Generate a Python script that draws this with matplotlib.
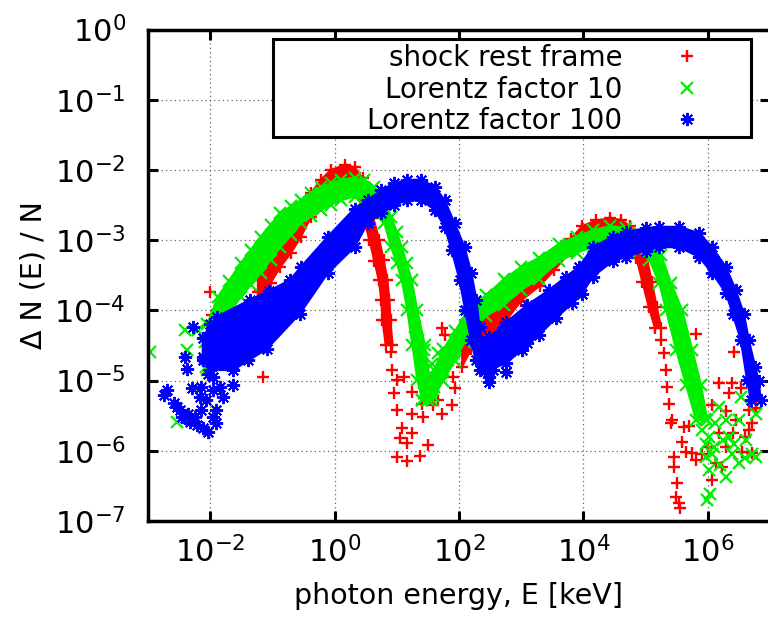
import numpy as np
import matplotlib
matplotlib.use('Agg')
from matplotlib import pyplot as plt
from matplotlib.patches import Rectangle

plt.rcParams['font.family'] = ['DejaVu Sans']
plt.rcParams['mathtext.fontset'] = 'dejavusans'

# values, stored as log10(E / keV) and log10(dN/N)
# dense parts of each cloud are given by their top and bottom edges

# shock rest frame (red)
red_b1_top_logE = [-1.23, -1.03, -0.87, -0.70, -0.54, -0.38, -0.22, -0.06, 0.16, 0.32, 0.45, 0.52,
                   0.62, 0.72, 0.79, 0.85, 0.88, 0.90, 0.93]
red_b1_top_logN = [-3.57, -3.19, -3.04, -2.81, -2.57, -2.33, -2.14, -2.00, -1.93, -1.96, -2.12, -2.36,
                   -2.68, -3.00, -3.28, -3.57, -3.85, -4.14, -4.49]
red_b1_bot_logE = [-1.23, -1.03, -0.87, -0.70, -0.54, -0.38, -0.22, -0.06, 0.16, 0.28, 0.37, 0.46,
                   0.56, 0.64, 0.71, 0.75, 0.77, 0.82]
red_b1_bot_logN = [-3.85, -3.61, -3.38, -3.18, -2.95, -2.67, -2.43, -2.24, -2.14, -2.18, -2.33, -2.66,
                   -3.00, -3.30, -3.57, -3.85, -4.14, -4.49]
red_b2_top_logE = [2.05, 2.20, 2.44, 2.73, 3.00, 3.30, 3.53, 3.80, 3.98, 4.20, 4.42, 4.60, 4.75,
                   4.90, 5.02, 5.10, 5.18, 5.25]
red_b2_top_logN = [-4.55, -4.35, -4.10, -3.93, -3.70, -3.50, -3.28, -2.98, -2.80, -2.72, -2.69, -2.71,
                   -2.80, -2.98, -3.25, -3.60, -3.95, -4.25]
red_b2_bot_logE = [2.05, 2.20, 2.44, 2.73, 3.00, 3.30, 3.53, 3.80, 3.98, 4.20, 4.42, 4.60, 4.72,
                   4.85, 4.95, 5.05, 5.15]
red_b2_bot_logN = [-4.80, -4.55, -4.38, -4.18, -3.86, -3.65, -3.43, -3.15, -3.00, -2.92, -2.86, -2.92,
                   -3.05, -3.25, -3.60, -3.95, -4.25]
red_pts_logE = [-2.00, -1.97, -1.39, -1.31, -1.36, -1.40, -1.15, -1.20, -1.09, -1.28, -1.23, -1.41,
                0.90, 0.93, 1.01, 1.12, 0.96, 1.25, 1.01, 1.24, 1.08, 1.05, 1.25, 1.17, 1.01, 1.17,
                1.37, 1.50, 1.42, 1.73, 1.40, 1.58, 1.88, 1.93, 1.90, 1.72, 1.77, 2.12, 1.56, 1.66,
                5.25, 5.30, 5.33, 5.35, 5.38, 5.41, 5.43, 5.62, 5.59, 5.46, 5.46, 5.51, 5.49, 5.55,
                5.53, 5.75, 5.65, 5.81, 6.42, 6.18, 6.39, 6.53, 6.34, 6.07, 6.29, 6.45, 6.71, 6.66,
                6.18, 6.29, 6.55, 6.13, 6.23, 6.07, 6.71, 5.81, 6.78, 6.66, 5.70, 5.90, 6.00, 6.40,
                6.60]
red_pts_logN = [-3.74, -4.06, -3.97, -3.92, -4.47, -4.61, -4.95, -3.71, -3.85, -4.09, -3.74, -4.09,
                -4.60, -4.85, -4.99, -4.95, -5.18, -5.16, -5.42, -5.47, -5.68, -5.82, -5.75, -5.89,
                -6.09, -6.15, -6.08, -5.92, -5.52, -5.47, -5.33, -5.35, -5.35, -5.10, -4.95, -4.25,
                -4.35, -3.95, -4.95, -5.28,
                -4.42, -4.61, -4.85, -5.09, -5.33, -5.61, -5.56, -5.66, -5.87, -6.09, -6.23, -6.46,
                -6.66, -6.82, -6.75, -6.03, -6.02, -4.33, -4.60, -5.03, -5.04, -5.11, -5.18, -5.35,
                -5.44, -5.56, -5.61, -5.42, -5.75, -5.94, -6.02, -6.18, -6.23, -6.42, -6.03, -6.13,
                -5.39, -5.71, -5.65, -6.05, -5.95, -5.75, -5.80]

# Lorentz factor 10 (green)
green_b1_top_logE = [-2.05, -1.88, -1.70, -1.51, -1.35, -1.19, -1.03, -0.87, -0.70, -0.54, -0.38,
                     -0.22, -0.06, 0.10, 0.32, 0.48, 0.64, 0.80, 0.91, 1.00, 1.08, 1.16, 1.24, 1.33,
                     1.45, 1.53, 1.56]
green_b1_top_logN = [-4.20, -3.81, -3.58, -3.33, -3.14, -2.95, -2.78, -2.61, -2.52, -2.43, -2.33,
                     -2.24, -2.19, -2.14, -2.11, -2.14, -2.24, -2.43, -2.67, -2.88, -3.10, -3.33,
                     -3.57, -4.00, -4.49, -4.99, -5.28]
green_b1_bot_logE = [-2.05, -1.88, -1.70, -1.51, -1.35, -1.19, -1.03, -0.87, -0.70, -0.54, -0.38,
                     -0.22, -0.06, 0.10, 0.32, 0.48, 0.64, 0.80, 0.91, 1.00, 1.08, 1.17, 1.25, 1.33,
                     1.41]
green_b1_bot_logN = [-4.85, -4.28, -4.05, -3.81, -3.64, -3.47, -3.28, -3.10, -2.93, -2.76, -2.66,
                     -2.57, -2.50, -2.43, -2.38, -2.43, -2.57, -2.76, -3.10, -3.33, -3.57, -4.00,
                     -4.49, -4.99, -5.28]
green_b2_top_logE = [1.50, 1.60, 1.75, 1.93, 2.09, 2.25, 2.44, 2.73, 3.00, 3.29, 3.61, 3.89, 4.15,
                     4.42, 4.69, 4.90, 5.05, 5.25, 5.41, 5.59, 5.75, 5.89, 5.99]
green_b2_top_logN = [-5.10, -4.85, -4.55, -4.30, -4.08, -3.92, -3.78, -3.55, -3.38, -3.25, -3.05,
                     -2.95, -2.86, -2.80, -2.82, -2.90, -3.02, -3.21, -3.61, -4.00, -4.56, -5.06,
                     -5.56]
green_b2_bot_logE = [1.41, 1.56, 1.75, 1.93, 2.09, 2.25, 2.44, 2.73, 3.00, 3.29, 3.61, 3.89, 4.15,
                     4.42, 4.69, 4.90, 5.06, 5.22, 5.33, 5.49, 5.65, 5.81]
green_b2_bot_logN = [-5.28, -5.28, -5.00, -4.72, -4.45, -4.20, -4.08, -3.92, -3.71, -3.55, -3.30,
                     -3.18, -3.10, -3.08, -3.08, -3.15, -3.28, -3.61, -4.00, -4.56, -5.06, -5.56]
green_pts_logE = [-2.97, -2.41, -2.20, -2.38, -2.09, -2.06, -2.54, -1.80, -1.63, -1.89,
                  1.29, 1.34, 1.44, 1.40, 1.50, 1.44, 1.60, 1.72, 1.82, 1.93, 2.03, 1.66, 1.56,
                  1.50, 1.58,
                  5.91, 5.97, 5.97, 6.02, 5.99, 6.03, 6.07, 6.18, 6.29, 6.34, 6.50, 6.61, 6.39,
                  6.50, 6.71, 6.78, 6.78, 6.53, 6.29, 6.10, 6.20, 5.95, 6.12, 6.42, 6.60, 6.25, 6.02]
green_pts_logN = [-4.60, -4.28, -4.28, -4.57, -4.45, -4.80, -5.59, -3.90, -4.18, -4.66,
                  -4.24, -4.42, -4.57, -4.76, -4.95, -5.18, -5.09, -4.85, -4.71, -4.52, -4.38,
                  -4.61, -4.76, -5.28, -5.22,
                  -5.71, -5.90, -6.09, -6.27, -6.70, -6.62, -6.04, -5.38, -5.56, -5.80, -5.56,
                  -5.85, -6.04, -6.18, -6.04, -5.47, -6.09, -5.24, -6.37, -5.95, -6.20, -5.55,
                  -5.60, -5.90, -6.10, -5.85, -5.80]

# Lorentz factor 100 (blue)
blue_b1_top_logE = [-2.12, -2.00, -1.89, -1.36, -1.05, -0.72, -0.54, -0.11, 0.32, 0.53, 0.75, 0.96,
                    1.17, 1.39, 1.61, 1.77, 1.93, 2.09, 2.20, 2.28, 2.33, 2.41, 2.43]
blue_b1_top_logN = [-4.40, -4.20, -4.09, -3.85, -3.72, -3.57, -3.38, -2.95, -2.55, -2.43, -2.29,
                    -2.19, -2.14, -2.14, -2.24, -2.43, -2.76, -3.10, -3.47, -3.85, -4.24, -4.56,
                    -4.80]
blue_b1_bot_logE = [-2.12, -2.00, -1.63, -1.09, -0.56, -0.11, 0.32, 0.53, 0.75, 0.96, 1.17, 1.39,
                    1.61, 1.77, 1.88, 2.01, 2.10, 2.19, 2.27, 2.33]
blue_b1_bot_logN = [-4.70, -4.85, -4.85, -4.55, -4.05, -3.47, -3.10, -2.76, -2.62, -2.50, -2.43,
                    -2.43, -2.57, -2.81, -3.14, -3.57, -4.00, -4.42, -4.71, -4.85]
blue_b2_top_logE = [2.43, 2.49, 2.76, 3.10, 3.45, 3.72, 3.93, 4.15, 4.47, 4.69, 5.00, 5.22, 5.54,
                    5.86, 6.07, 6.29, 6.45, 6.58, 6.66, 6.76, 6.82, 6.85]
blue_b2_top_logN = [-4.45, -4.38, -4.17, -3.92, -3.71, -3.52, -3.38, -3.10, -2.95, -2.88, -2.83,
                    -2.81, -2.81, -2.90, -3.10, -3.38, -3.71, -4.05, -4.42, -4.80, -5.00, -5.28]
blue_b2_bot_logE = [2.43, 2.49, 2.76, 3.02, 3.29, 3.56, 3.82, 3.98, 4.15, 4.47, 4.69, 5.00, 5.22,
                    5.54, 5.86, 6.07, 6.29, 6.40, 6.53, 6.63, 6.69]
blue_b2_bot_logN = [-4.85, -4.85, -4.75, -4.56, -4.35, -4.11, -3.90, -3.76, -3.52, -3.30, -3.24,
                    -3.15, -3.10, -3.10, -3.24, -3.47, -3.75, -4.05, -4.42, -4.99, -5.28]
blue_pts_logE = [-2.75, -2.70, -2.54, -2.49, -2.41, -2.33, -2.22, -2.11, -2.03, -1.95, -1.90,
                 -2.14, -2.06, -1.95, -1.84, -1.63, -1.79, -1.90, -2.30, -2.14, -2.38, -2.41,
                 -2.27, -2.11, -2.03, -1.95, -2.00, -1.90, -1.79, -1.63, -1.52, -1.39, -1.42,
                 -1.31, -1.68, -1.84, -2.17, -2.25, -2.35, -2.46, -2.59,
                 2.46, 2.49, 2.48, 2.76, 2.62, 2.78, 3.10, 2.73, 2.55]
blue_pts_logN = [-5.21, -5.14, -5.37, -5.42, -5.54, -5.59, -5.63, -5.68, -5.73, -5.52, -5.42,
                 -5.42, -5.28, -5.14, -5.09, -5.06, -5.23, -5.61, -5.11, -5.09, -4.83, -4.66,
                 -4.23, -4.66, -4.90, -4.95, -4.47, -4.38, -4.61, -4.76, -4.66, -4.71, -4.47,
                 -4.28, -4.28, -4.19, -5.23, -5.52, -5.47, -5.52, -5.32,
                 -4.71, -4.95, -5.02, -4.88, -4.61, -4.57, -4.47, -4.24, -4.85]

labels = ['shock rest frame', 'Lorentz factor 10', 'Lorentz factor 100']
xticks = [1e-2, 1e0, 1e2, 1e4, 1e6]
yticks = [1e-7, 1e-6, 1e-5, 1e-4, 1e-3, 1e-2, 1e-1, 1e0]

fig = plt.figure(figsize=(7.68, 6.2), dpi=100)
ax = fig.add_axes([148 / 768., 1 - 521 / 620., 622 / 768., 491.5 / 620.])
ax.set_xscale('log')
ax.set_yscale('log')


def draw_series(bands, pts, color, marker, ms, mew, z, label):
    style = dict(ls='none', marker=marker, ms=ms, mew=mew, color=color, zorder=z)
    for (te, tn), (be, bn) in bands:
        # dense part of the cloud: area between the read top and bottom edges
        px = np.concatenate([te, be[::-1]])
        py = np.concatenate([tn, bn[::-1]])
        ax.fill(10.0 ** px, 10.0 ** py, facecolor=color, edgecolor=color, lw=1.5, zorder=z)
        ax.plot(10.0 ** np.array(te), 10.0 ** np.array(tn), **style)
        ax.plot(10.0 ** np.array(be), 10.0 ** np.array(bn), **style)
    h, = ax.plot(10.0 ** np.array(pts[0]), 10.0 ** np.array(pts[1]), label=label, **style)
    return h


asterisk = (8, 2, 0)
h1 = draw_series([((red_b1_top_logE, red_b1_top_logN), (red_b1_bot_logE, red_b1_bot_logN)),
                  ((red_b2_top_logE, red_b2_top_logN), (red_b2_bot_logE, red_b2_bot_logN))],
                 (red_pts_logE, red_pts_logN), '#ff0000', '+', 9, 1.7, 2.0, labels[0])
h2 = draw_series([((green_b1_top_logE, green_b1_top_logN), (green_b1_bot_logE, green_b1_bot_logN)),
                  ((green_b2_top_logE, green_b2_top_logN), (green_b2_bot_logE, green_b2_bot_logN))],
                 (green_pts_logE, green_pts_logN), '#00ee00', 'x', 8, 1.6, 2.1, labels[1])
h3 = draw_series([((blue_b1_top_logE, blue_b1_top_logN), (blue_b1_bot_logE, blue_b1_bot_logN)),
                  ((blue_b2_top_logE, blue_b2_top_logN), (blue_b2_bot_logE, blue_b2_bot_logN))],
                 (blue_pts_logE, blue_pts_logN), '#0000ff', asterisk, 9.5, 1.4, 2.2, labels[2])

ax.set_xlim(1e-3, 1e7)
ax.set_ylim(1e-7, 1e0)
ax.set_xticks(xticks)
ax.set_yticks(yticks)
ax.minorticks_off()
ax.set_axisbelow(True)
ax.grid(True, which='major', color='0.4', linestyle=(0, (1, 2.5)), lw=0.9)

for s in ax.spines.values():
    s.set_linewidth(2.5)
ax.tick_params(which='major', direction='in', length=7, width=2.2, top=True, right=True,
               labelsize=22)
ax.tick_params(axis='x', pad=11)
ax.tick_params(axis='y', pad=16)

ax.set_xlabel('photon energy, E [keV]', fontsize=20.5)
ax.set_ylabel('\u0394 N (E) / N', fontsize=20.5)
ax.xaxis.set_label_coords(0.5, -0.124)
ax.yaxis.set_label_coords(-0.161, 0.5)

# opaque key box as gnuplot draws it
ax.add_patch(Rectangle((273 / 768., 1 - 137 / 620.), (751 - 273) / 768., (137 - 39.3) / 620.,
                       transform=fig.transFigure, facecolor='white', edgecolor='black',
                       lw=2.2, zorder=4))
ax.legend([h1, h2, h3], labels, loc='upper right', bbox_to_anchor=(715 / 768., 1 - 30 / 620.),
          bbox_transform=fig.transFigure, frameon=False, markerfirst=False, numpoints=1,
          handlelength=1.0, handletextpad=1.83, labelspacing=0.13, borderpad=0.0, fontsize=20)

fig.savefig('out.png', dpi=100)
